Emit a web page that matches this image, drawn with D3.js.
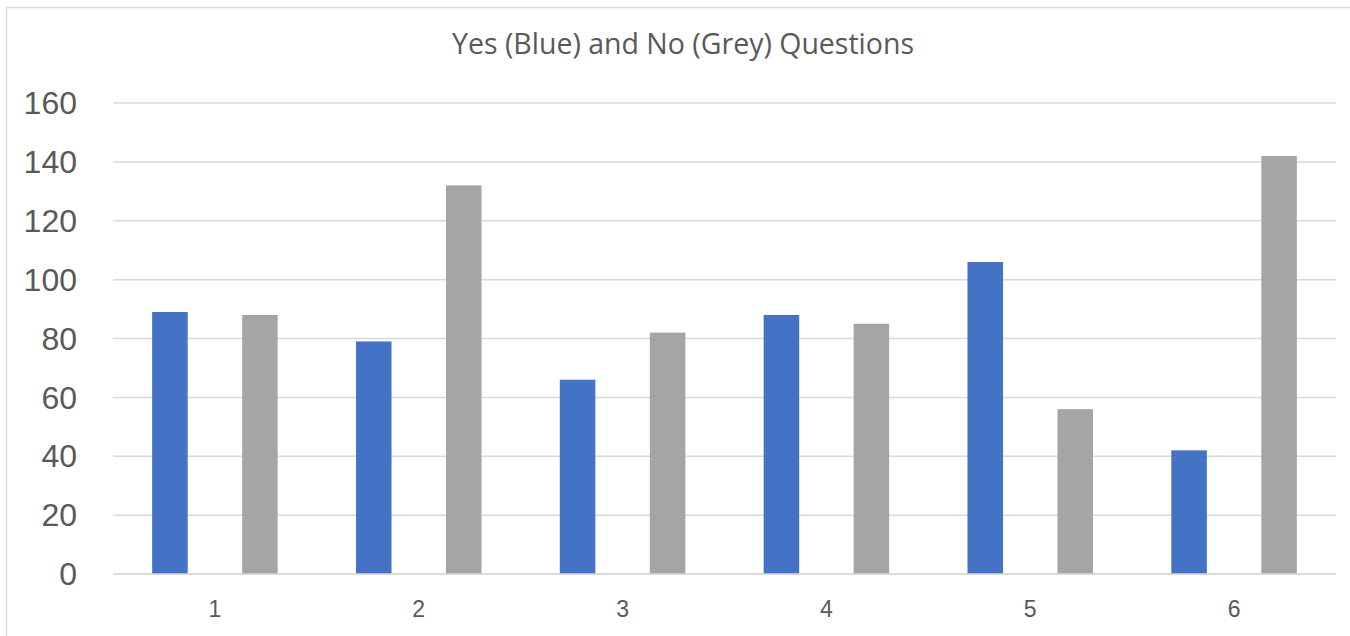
<!DOCTYPE html>
<html>
<head>
<meta charset="utf-8">
<script src="https://cdn.jsdelivr.net/npm/d3@7"></script>
<style>
  body { margin: 0; background: #fff; }
  svg { display: block; }
</style>
</head>
<body>
<script>
"use strict";
// Data
const categories = ["1", "2", "3", "4", "5", "6"];
const seriesNames = ["Yes", "No"];
const yesValues = [89, 79, 66, 88, 106, 42];
const noValues = [88, 132, 82, 85, 56, 142];
const yTicks = [0, 20, 40, 60, 80, 100, 120, 140, 160];
const colors = ["#4472C4", "#A5A5A5"];

const width = 1350;
const height = 636;
const margin = {top: 103, right: 14, bottom: 62, left: 113};

const svg = d3.select("body")
    .append("svg")
    .attr("width", width)
    .attr("height", height);

// chart border (right and bottom edges fall outside the picture)
svg.append("rect")
    .attr("x", 6.5)
    .attr("y", 7.5)
    .attr("width", width)
    .attr("height", height)
    .attr("fill", "#fff")
    .attr("stroke", "#D9D9D9")
    .attr("stroke-width", 1.5);

svg.append("text")
    .attr("x", 683)
    .attr("y", 54)
    .attr("text-anchor", "middle")
    .attr("font-family", "'Open Sans', sans-serif")
    .attr("font-size", 28.5)
    .attr("fill", "#595959")
    .text("Yes (Blue) and No (Grey) Questions");

const x0 = d3.scaleBand()
    .domain(categories)
    .range([margin.left, width - margin.right]);

const x1 = d3.scaleBand()
    .domain(seriesNames)
    .range([0, x0.bandwidth()])
    .paddingInner(0.605)
    .paddingOuter(0.435);

const y = d3.scaleLinear()
    .domain([0, 160])
    .range([height - margin.bottom, margin.top]);

// gridlines
svg.append("g")
    .selectAll("line")
    .data(yTicks)
    .enter().append("line")
    .attr("x1", margin.left)
    .attr("x2", width - margin.right)
    .attr("y1", d => y(d))
    .attr("y2", d => y(d))
    .attr("stroke", "#D9D9D9")
    .attr("stroke-width", 1.5);

// y labels
svg.append("g")
    .selectAll("text")
    .data(yTicks)
    .enter().append("text")
    .attr("x", 77)
    .attr("y", d => y(d))
    .attr("dy", "0.35em")
    .attr("text-anchor", "end")
    .attr("font-family", "'Liberation Sans', sans-serif")
    .attr("font-size", 32)
    .attr("fill", "#595959")
    .text(d => d);

// bars
const rows = categories.map((c, i) => ({cat: c, vals: [yesValues[i], noValues[i]]}));
const groups = svg.append("g")
    .selectAll("g")
    .data(rows)
    .enter().append("g")
    .attr("transform", d => `translate(${x0(d.cat)},0)`);

groups.selectAll("rect")
    .data(d => d.vals.map((v, j) => ({name: seriesNames[j], value: v, color: colors[j]})))
    .enter().append("rect")
    .attr("x", d => x1(d.name))
    .attr("width", x1.bandwidth())
    .attr("y", d => y(d.value))
    .attr("height", d => y(0) - y(d.value))
    .attr("fill", d => d.color);

// baseline on top of bars
svg.append("line")
    .attr("x1", margin.left)
    .attr("x2", width - margin.right)
    .attr("y1", y(0))
    .attr("y2", y(0))
    .attr("stroke", "#D9D9D9")
    .attr("stroke-width", 1.5);

// x labels
svg.append("g")
    .selectAll("text")
    .data(categories)
    .enter().append("text")
    .attr("x", d => x0(d) + x0.bandwidth() / 2)
    .attr("y", 609)
    .attr("dy", "0.35em")
    .attr("text-anchor", "middle")
    .attr("font-family", "'Liberation Sans', sans-serif")
    .attr("font-size", 23)
    .attr("fill", "#595959")
    .text(d => d);
</script>
</body>
</html>
